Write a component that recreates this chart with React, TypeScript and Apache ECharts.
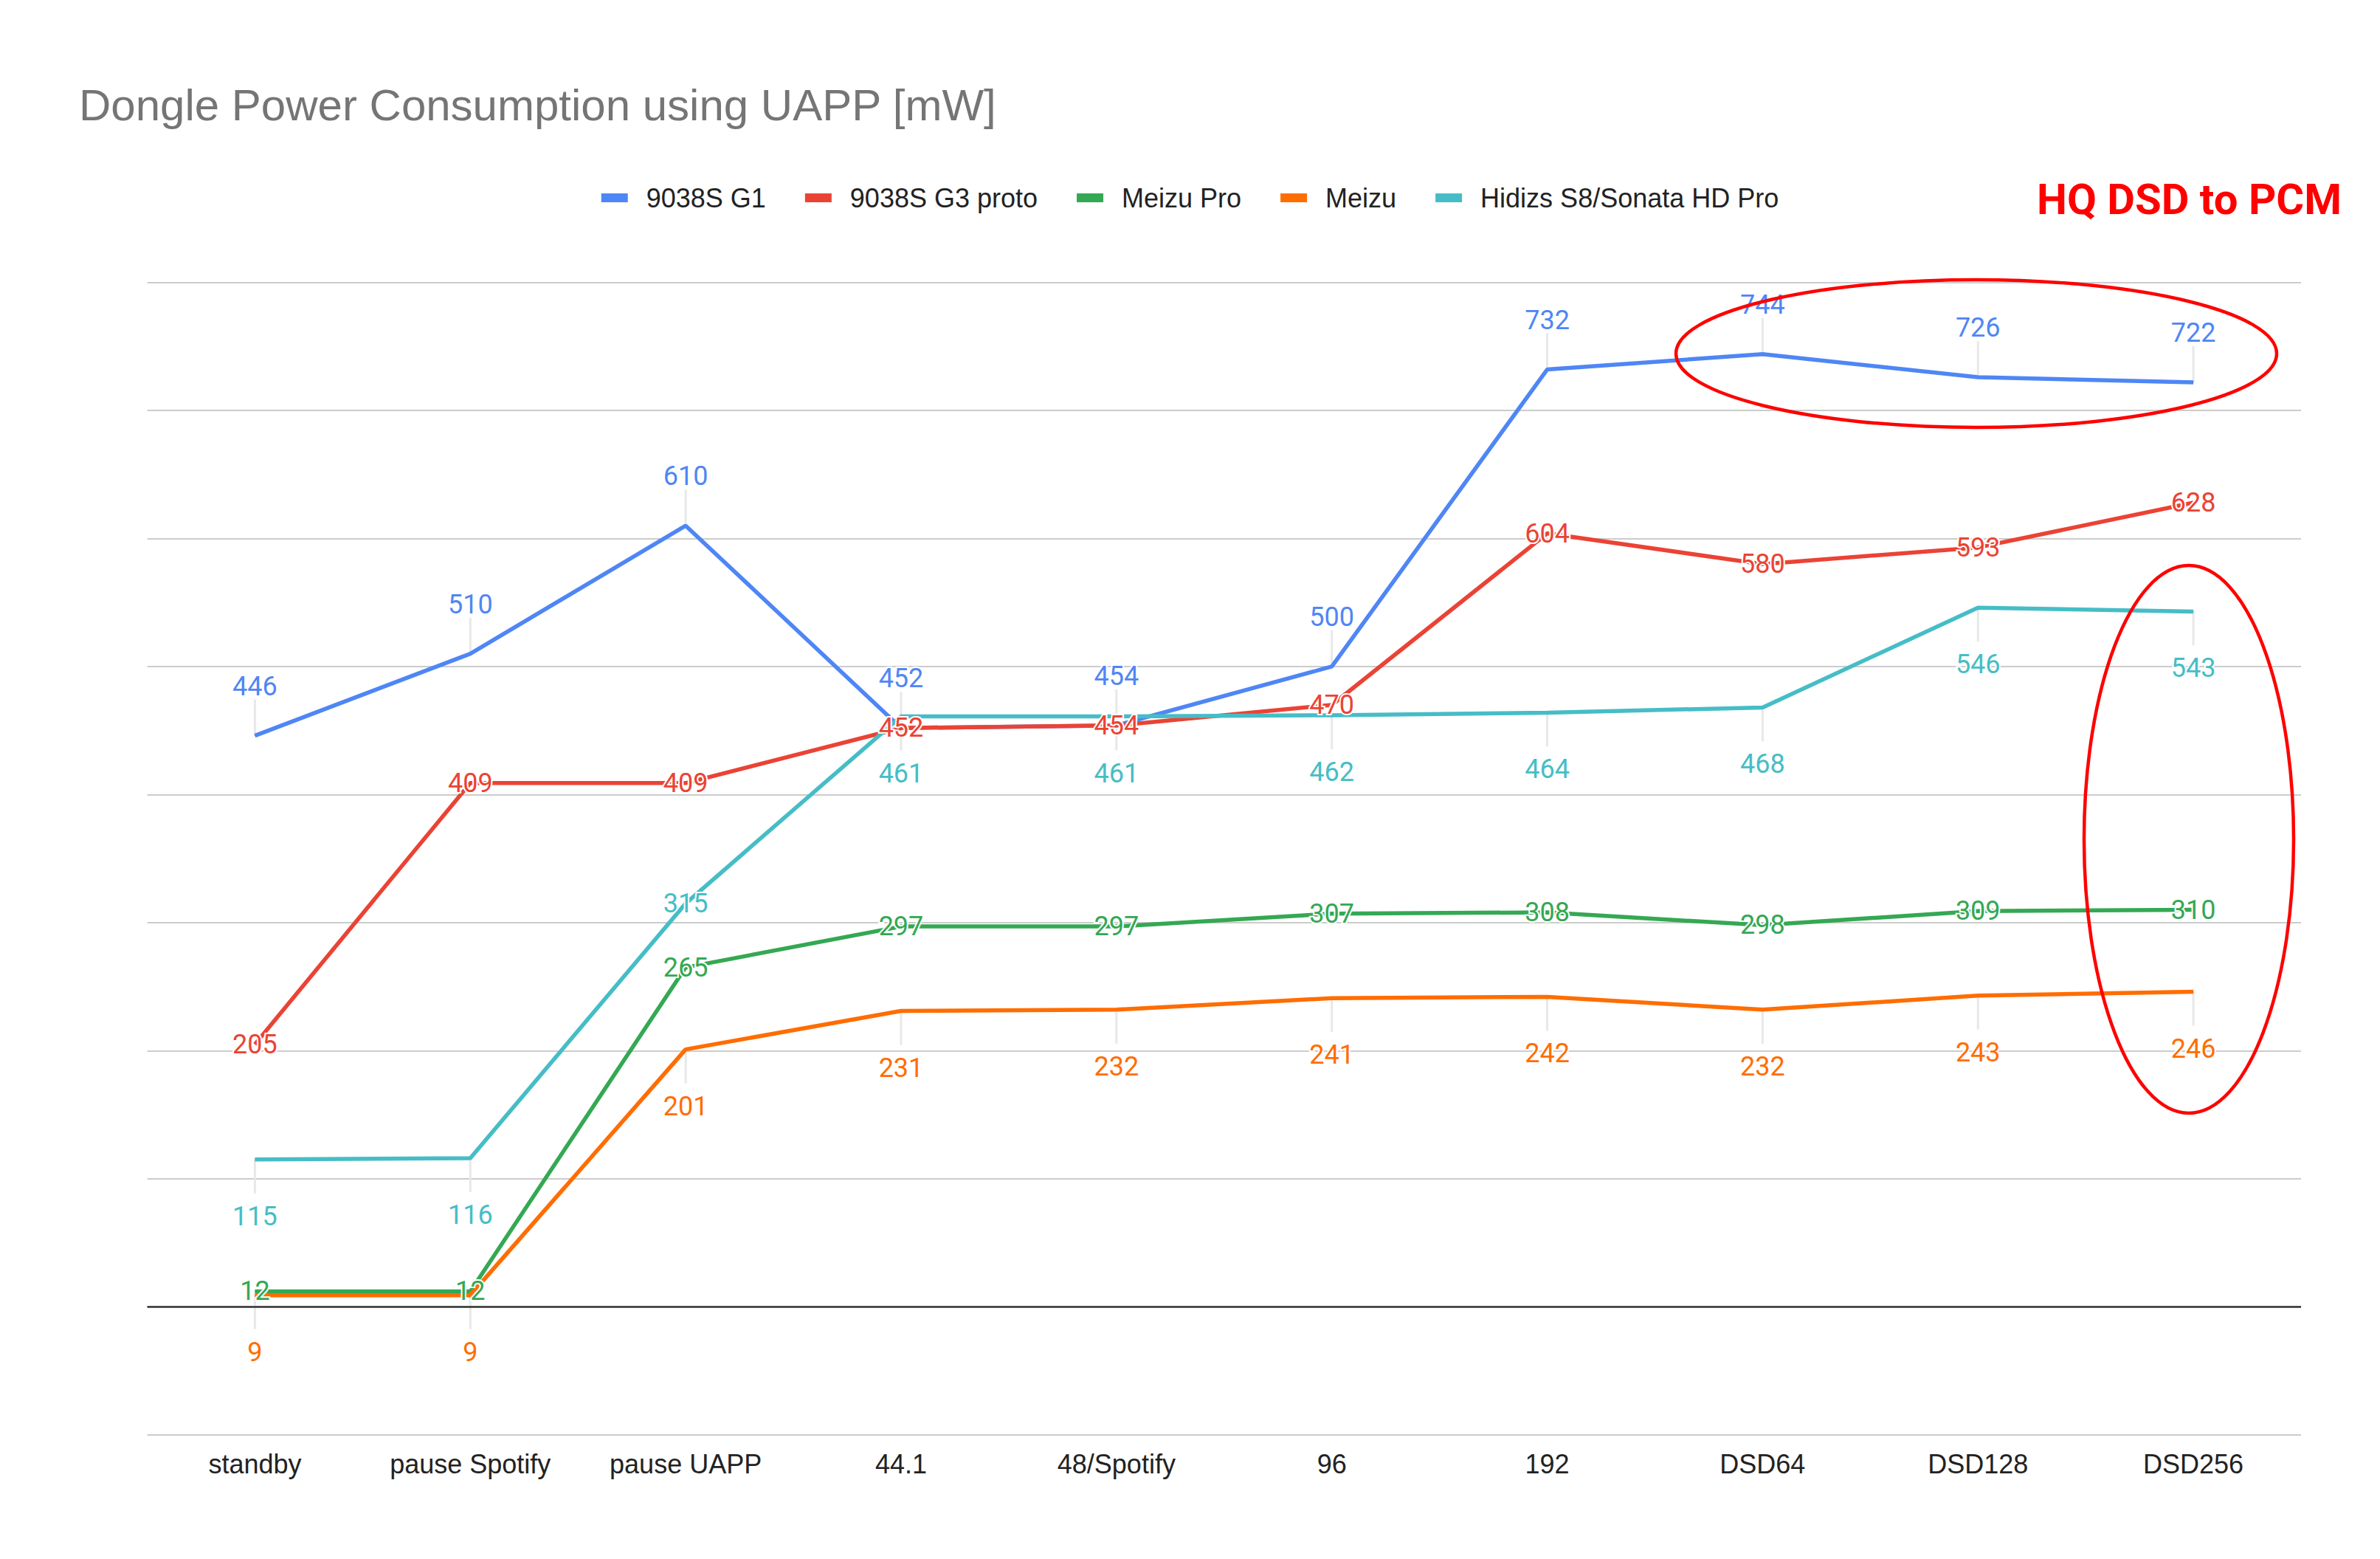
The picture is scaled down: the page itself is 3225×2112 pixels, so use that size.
import React, { useEffect, useRef } from 'react';
import * as echarts from 'echarts';

const titleText = 'Dongle Power Consumption using UAPP [mW]';
const annotationText = 'HQ DSD to PCM';
const categories = ['standby', 'pause Spotify', 'pause UAPP', '44.1', '48/Spotify', '96', '192', 'DSD64', 'DSD128', 'DSD256'];
const seriesNames = ['9038S G1', '9038S G3 proto', 'Meizu Pro', 'Meizu', 'Hidizs S8/Sonata HD Pro'];
const g1 = [446, 510, 610, 452, 454, 500, 732, 744, 726, 722];
const g3proto = [205, 409, 409, 452, 454, 470, 604, 580, 593, 628];
const meizuPro = [12, 12, 265, 297, 297, 307, 308, 298, 309, 310];
const meizu = [9, 9, 201, 231, 232, 241, 242, 232, 243, 246];
const hidizs = [115, 116, 315, 461, 461, 462, 464, 468, 546, 543];
const yMin = -100;
const yMax = 800;
const yInterval = 100;

const colors = ['#4F86F5', '#EA4335', '#34A853', '#FF6D01', '#46BDC6'];

type Side = 'above' | 'below' | 'center';

function makeSeries(name: string, data: number[], color: string, side: Side, centered: number[] = []) {
  const offset = side === 'above' ? [0, -67] : side === 'below' ? [0, 77] : [0, 0];
  return {
    type: 'line',
    name,
    z: 3,
    data: data.map((v, i) => (centered.includes(i) ? { value: v, label: { offset: [0, 0] } } : v)),
    symbol: 'circle',
    symbolSize: 1,
    showSymbol: true,
    itemStyle: { color },
    lineStyle: { color, width: 5.5 },
    label: {
      show: true,
      position: 'inside',
      offset,
      color,
      fontFamily: 'Roboto',
      fontSize: 36,
      textBorderColor: '#ffffff',
      textBorderWidth: 4,
    },
    emphasis: { disabled: true },
  };
}

export default function App() {
  const ref = useRef<HTMLDivElement>(null);
  useEffect(() => {
    if (!ref.current) return;
    const chart = echarts.init(ref.current, undefined, { renderer: 'svg' });

    const leaderData: number[][] = [];
    g1.forEach((v, i) => leaderData.push([i, v, -1]));
    meizu.forEach((v, i) => leaderData.push([i, v, 1]));
    hidizs.forEach((v, i) => {
      if (i !== 2) leaderData.push([i, v, 1]);
    });

    chart.setOption({
      animation: false,
      backgroundColor: '#ffffff',
      title: {
        text: titleText,
        left: 107,
        top: 112,
        padding: 0,
        textStyle: { color: '#757575', fontFamily: 'Liberation Sans', fontSize: 60, fontWeight: 'normal' },
      },
      legend: {
        data: seriesNames,
        left: 'center',
        top: 250,
        padding: 0,
        icon: 'rect',
        itemWidth: 36,
        itemHeight: 12,
        itemGap: 53,
        textStyle: { color: '#222222', fontFamily: 'Liberation Sans', fontSize: 36, padding: [0, 0, 0, 20] },
      },
      grid: { left: 199.5, right: 107, top: 382.6, bottom: 168.3, containLabel: false },
      xAxis: {
        type: 'category',
        data: categories,
        boundaryGap: true,
        axisLine: { show: false },
        axisTick: { show: false },
        axisLabel: { interval: 0, color: '#222222', fontFamily: 'Liberation Sans', fontSize: 36, margin: 22 },
        splitLine: { show: false },
      },
      yAxis: {
        type: 'value',
        min: yMin,
        max: yMax,
        interval: yInterval,
        axisLine: { show: false },
        axisTick: { show: false },
        axisLabel: { show: false },
        splitLine: { show: true, lineStyle: { color: '#cccccc', width: 2 } },
      },
      series: [
        {
          type: 'custom',
          name: 'leaders',
          z: 1,
          silent: true,
          data: leaderData,
          encode: { x: 0, y: 1 },
          renderItem: (params: any, api: any) => {
            const p = api.coord([api.value(0), api.value(1)]);
            const dir = api.value(2);
            const len = dir < 0 ? 49 : 46;
            return {
              type: 'line',
              shape: { x1: p[0], y1: p[1], x2: p[0], y2: p[1] + dir * len },
              style: { stroke: '#e8e8e8', lineWidth: 3 },
            };
          },
          markLine: {
            silent: true,
            symbol: 'none',
            label: { show: false },
            lineStyle: { color: '#333333', width: 2.5, type: 'solid' },
            data: [{ yAxis: 0 }],
          },
        },
        makeSeries(seriesNames[0], g1, colors[0], 'above'),
        makeSeries(seriesNames[1], g3proto, colors[1], 'center'),
        makeSeries(seriesNames[2], meizuPro, colors[2], 'center'),
        makeSeries(seriesNames[3], meizu, colors[3], 'below'),
        makeSeries(seriesNames[4], hidizs, colors[4], 'below', [2]),
      ],
      graphic: [
        {
          type: 'ellipse',
          silent: true,
          z: 100,
          shape: { cx: 2678, cy: 479, rx: 407, ry: 100 },
          style: { fill: 'none', stroke: '#ff0000', lineWidth: 4.5 },
        },
        {
          type: 'ellipse',
          silent: true,
          z: 100,
          shape: { cx: 2966, cy: 1137, rx: 142, ry: 371 },
          style: { fill: 'none', stroke: '#ff0000', lineWidth: 4.5 },
        },
        {
          type: 'text',
          silent: true,
          z: 100,
          x: 2760,
          y: 270,
          style: {
            text: annotationText,
            fill: '#ff0000',
            fontFamily: 'Roboto',
            fontWeight: 'bold',
            fontSize: 58,
            verticalAlign: 'middle',
          },
        },
      ],
    });
    return () => chart.dispose();
  }, []);
  return <div ref={ref} style={{ position: 'fixed', left: 0, top: 0, width: 3225, height: 2112 }} />;
}
